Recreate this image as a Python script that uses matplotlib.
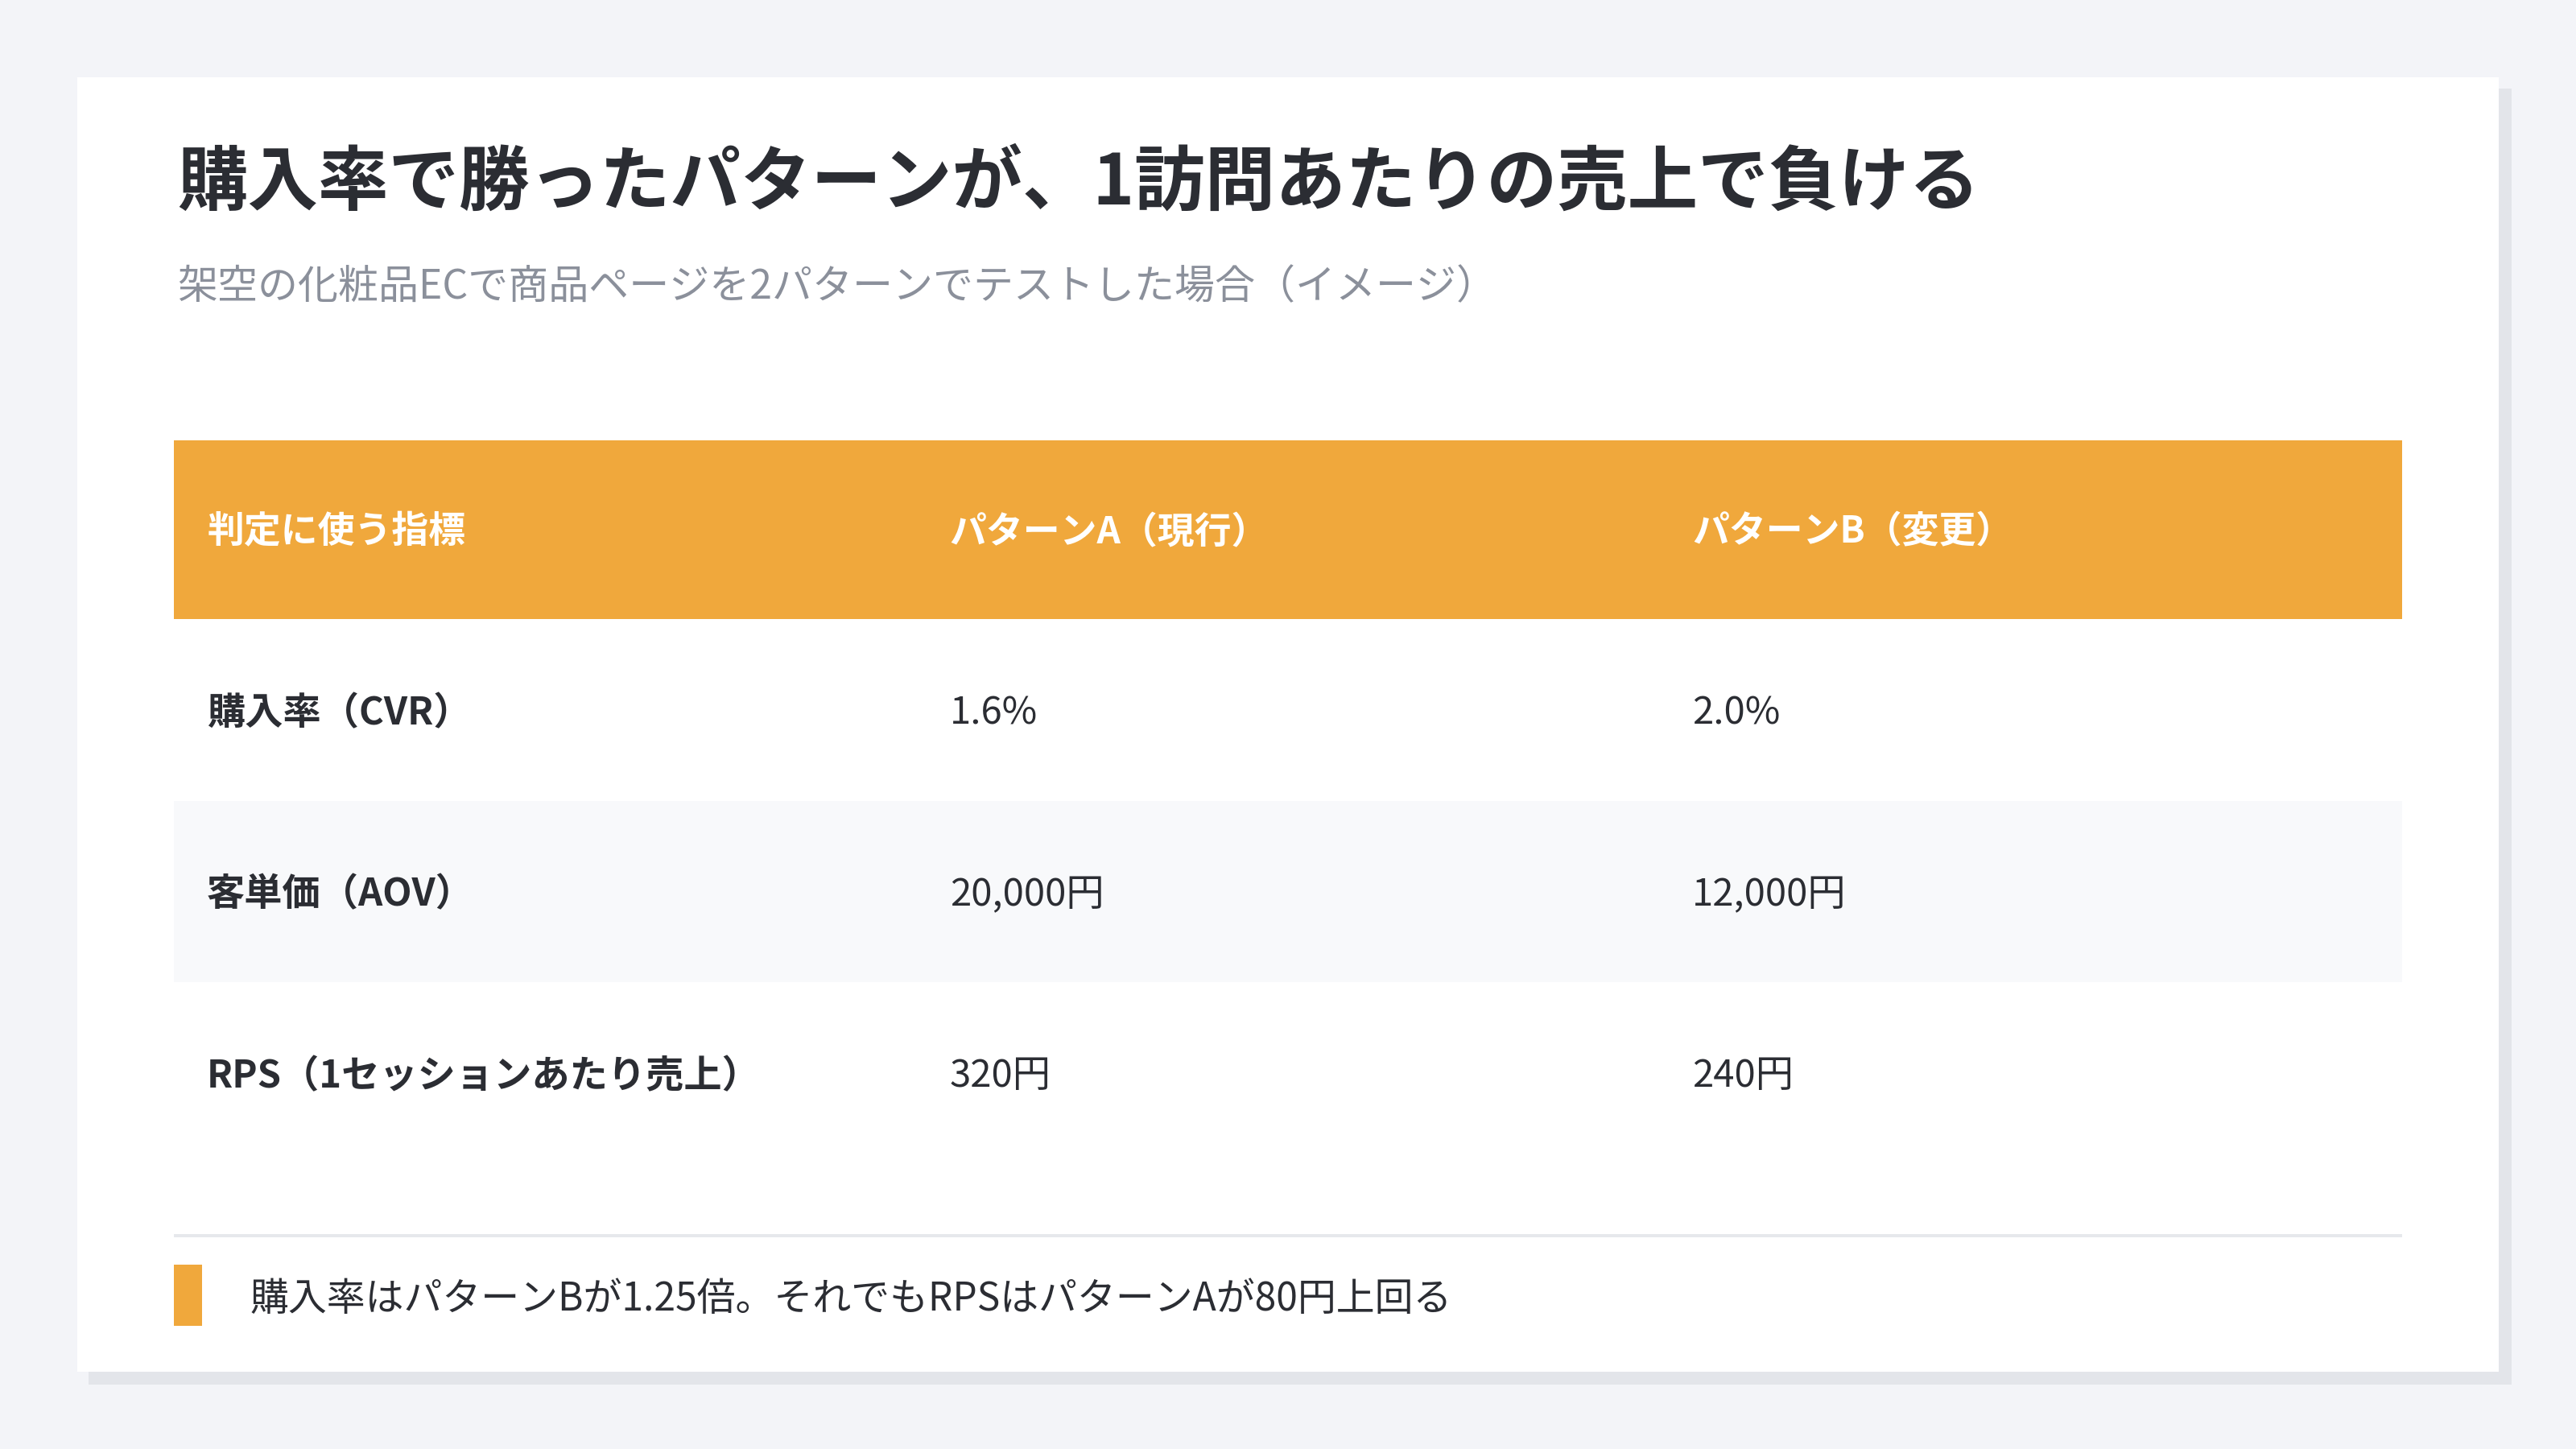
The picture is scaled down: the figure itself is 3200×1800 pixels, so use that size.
import matplotlib
matplotlib.use("Agg")
import matplotlib.pyplot as plt
from matplotlib.patches import Rectangle

plt.rcParams['font.family'] = ['Noto Sans CJK JP', 'DejaVu Sans']

title = "購入率で勝ったパターンが、1訪問あたりの売上で負ける"
subtitle = "架空の化粧品ECで商品ページを2パターンでテストした場合（イメージ）"
headers = ["判定に使う指標", "パターンA（現行）", "パターンB（変更）"]
metrics = ["購入率（CVR）", "客単価（AOV）", "RPS（1セッションあたり売上）"]
pattern_a = ["1.6%", "20,000円", "320円"]
pattern_b = ["2.0%", "12,000円", "240円"]
note = "購入率はパターンBが1.25倍。それでもRPSはパターンAが80円上回る"

W, H = 1568, 882
fig = plt.figure(figsize=(32, 18), dpi=100)
fig.patch.set_facecolor("#f3f4f8")

def X(p): return p / W
def Y(p): return 1 - p / H
def rect(x0, y0, x1, y1, color, z=1):
    fig.patches.append(Rectangle((X(x0), Y(y1)), X(x1) - X(x0), Y(y0) - Y(y1),
                                 transform=fig.transFigure, facecolor=color, edgecolor="none", zorder=z))

rect(54, 54, 1529, 843, "#e3e5ea", 0)
rect(47, 47, 1521, 835, "white", 1)

fig.text(X(108), Y(112), title, fontsize=63, fontweight="bold", color="#2b2d33", va="center", ha="left", zorder=5)
fig.text(X(108), Y(175), subtitle, fontsize=36, color="#8b909b", va="center", ha="left", zorder=5)

rect(106, 268, 1462, 377, "#f0a83c", 2)
col_x = [126, 578, 1030]
for cx, h in zip(col_x, headers):
    fig.text(X(cx), Y(324), h, fontsize=33, fontweight="bold", color="white", va="center", ha="left", zorder=5)

row_h = 110.5
for i, (m, a, b) in enumerate(zip(metrics, pattern_a, pattern_b)):
    y0 = 377 + i * row_h
    if i % 2 == 1:
        rect(106, y0, 1462, y0 + row_h, "#f8f9fb", 2)
    yc = y0 + row_h / 2 + 2
    fig.text(X(col_x[0]), Y(yc), m, fontsize=34, fontweight="bold", color="#2b2d33", va="center", ha="left", zorder=5)
    fig.text(X(col_x[1]), Y(yc), a, fontsize=34, color="#2b2d33", va="center", ha="left", zorder=5)
    fig.text(X(col_x[2]), Y(yc), b, fontsize=34, color="#2b2d33", va="center", ha="left", zorder=5)

rect(106, 751, 1462, 753, "#e6e8ec", 2)
rect(106, 770, 123, 807, "#f0a83c", 2)
fig.text(X(152), Y(791), note, fontsize=34.5, color="#2b2d33", va="center", ha="left", zorder=5)

fig.savefig("out.png", dpi=100, facecolor=fig.get_facecolor())
